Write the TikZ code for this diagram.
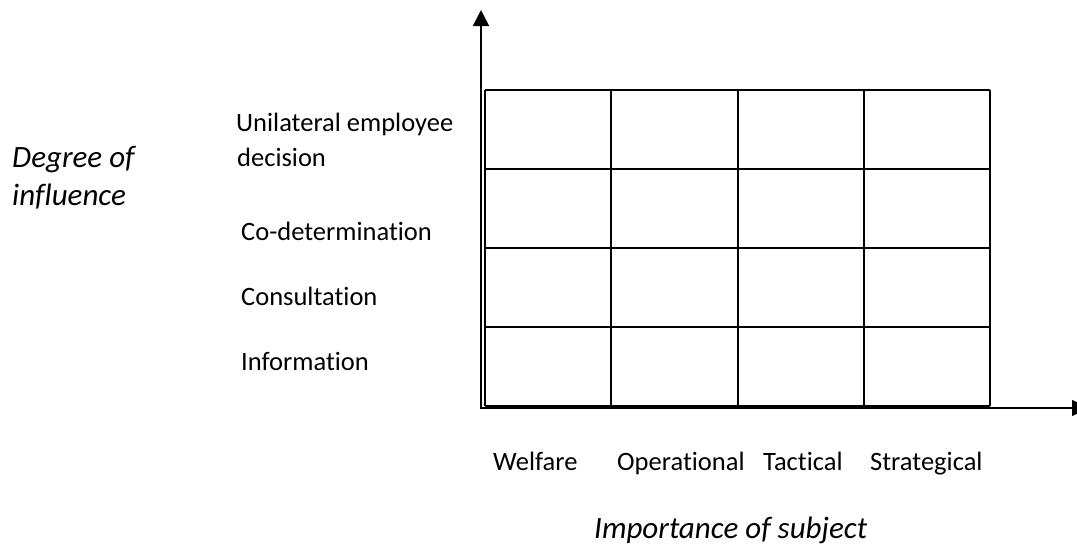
\documentclass[tikz,border=0pt]{standalone}
\usepackage{fontspec}
\setmainfont{Carlito}[Ligatures=NoCommon]
\usetikzlibrary{arrows.meta}
\begin{document}
\begin{tikzpicture}[x=1pt,y=-1pt,
  lab/.style={anchor=base west, inner sep=0pt, font=\fontsize{26.5}{32}\selectfont},
  ttl/.style={anchor=base west, inner sep=0pt, font=\fontsize{31}{38}\selectfont\itshape},
  gridline/.style={line width=1.6pt},
  axisline/.style={line width=1.6pt, -{Triangle[length=16pt,width=16pt]}}]
\useasboundingbox (0,0) rectangle (1077,547);
\clip (0,0) rectangle (1077,547);
% grid
\foreach \gx in {485,611,738,864,990}
  \draw[gridline] (\gx,90) -- (\gx,406);
\foreach \gy in {90,169,248,327,406}
  \draw[gridline] (485,\gy) -- (990,\gy);
% axes
\coordinate (O) at (481,409);
\coordinate (ytip) at (481,10);
\coordinate (xorig) at (480.2,408);
\coordinate (xtip) at (1088,408);
\draw[axisline] (O) -- (ytip);
\draw[axisline] (xorig) -- (xtip);
% left labels
\node[ttl] (deg1) at (12,167) {Degree of};
\node[ttl] (deg2) at (12,205) {influence};
\node[lab] (uni1) at (236,131.5) {Unilateral employee};
\node[lab] (uni2) at (237,166.5) {decision};
\node[lab] (codet) at (241,240.5) {Co-determination};
\node[lab] (cons) at (241,305) {Consultation};
\node[lab] (info) at (241,370.5) {Information};
% bottom labels
\node[lab] (welf) at (493,470.5) {Welfare};
\node[lab] (oper) at (617,470.5) {Operational};
\node[lab] (tact) at (763,470.5) {Tactical};
\node[lab] (strat) at (870,470.5) {Strategical};
\node[ttl] (imp) at (594,538) {Importance of subject};
\end{tikzpicture}
\end{document}
